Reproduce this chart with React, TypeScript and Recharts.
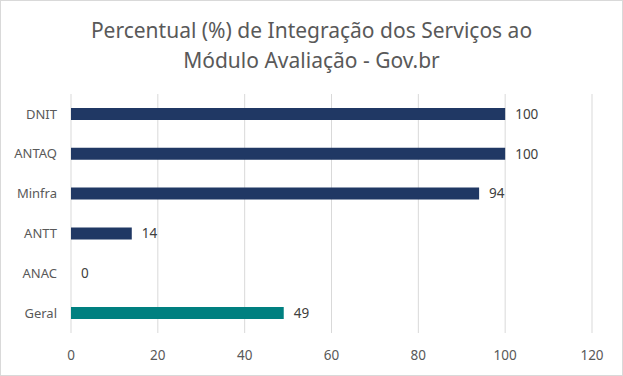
import React from "react";
import { BarChart, Bar, XAxis, YAxis, CartesianGrid, LabelList, Cell } from "recharts";

const categories = ["DNIT", "ANTAQ", "Minfra", "ANTT", "ANAC", "Geral"];
const values = [100, 100, 94, 14, 0, 49];
const xTicks = [0, 20, 40, 60, 80, 100, 120];
const barColors = ["#203864", "#203864", "#203864", "#203864", "#203864", "#008080"];
const titleLines = ["Percentual (%) de Integração dos Serviços ao", "Módulo Avaliação - Gov.br"];

const data = categories.map((c, i) => ({ name: c, value: values[i] }));

const FONT = "'Noto Sans', 'Open Sans', sans-serif";

export default function App() {
  return (
    <div
      style={{
        position: "fixed",
        left: 0,
        top: 0,
        width: 623,
        height: 376,
        boxSizing: "border-box",
        border: "1px solid #d9d9d9",
        background: "#fff",
        fontFamily: FONT,
      }}
    >
      <div
        style={{
          position: "absolute",
          left: 0,
          top: 14,
          width: 621,
          textAlign: "center",
          fontSize: 21,
          lineHeight: "30px",
          color: "#595959",
        }}
      >
        {titleLines.map((t) => (
          <div key={t}>{t}</div>
        ))}
      </div>
      <div style={{ position: "absolute", left: -1, top: -1 }}>
        <BarChart
          width={623}
          height={376}
          data={data}
          layout="vertical"
          margin={{ top: 94, right: 31, bottom: 0, left: 0 }}
          barCategoryGap="65%"
        >
          <CartesianGrid horizontal={false} stroke="#d9d9d9" />
          <XAxis
            type="number"
            domain={[0, 120]}
            ticks={xTicks}
            axisLine={false}
            tickLine={false}
            tickSize={0}
            tickMargin={17}
            height={43}
            tick={{ fill: "#595959", fontSize: 13.5, fontFamily: FONT }}
          />
          <YAxis
            type="category"
            dataKey="name"
            width={71}
            axisLine={false}
            tickLine={false}
            tickSize={0}
            tickMargin={14}
            tick={{ fill: "#595959", fontSize: 13, fontFamily: FONT }}
          />
          <Bar dataKey="value" isAnimationActive={false} minPointSize={0.01}>
            {data.map((d, i) => (
              <Cell key={d.name} fill={barColors[i]} />
            ))}
            <LabelList
              dataKey="value"
              position="right"
              offset={10}
              fill="#404040"
              fontSize={13.5}
              fontFamily={FONT}
            />
          </Bar>
        </BarChart>
      </div>
    </div>
  );
}
